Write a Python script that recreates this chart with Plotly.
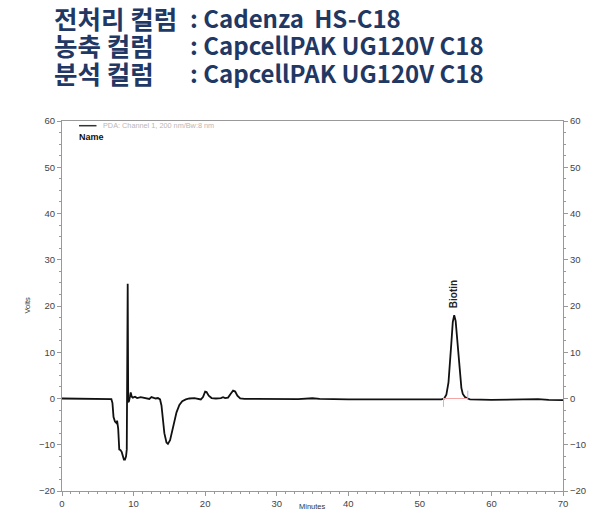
import plotly.graph_objects as go

# ---- data ----
time_min = [0, 2, 4, 6, 6.9, 7.05, 7.2, 7.4, 7.6, 7.7, 7.85, 8.0, 8.2, 8.35, 8.5, 8.65, 8.8,
            8.95, 9.05, 9.18, 9.25, 9.35, 9.5, 9.6, 9.75, 9.9, 10.2, 10.5, 11.0, 11.3, 11.7,
            12.2, 12.5, 12.8, 13.1, 13.4, 13.7, 13.9, 14.1, 14.3, 14.6, 14.8, 15.1, 15.4,
            15.7, 16.0, 16.4, 16.8, 17.3, 17.8, 18.5, 19.0, 19.4, 19.7, 20.0, 20.2, 20.5,
            20.9, 21.5, 22.2, 22.5, 22.8, 23.2, 23.6, 23.9, 24.2, 24.5, 24.9, 25.5, 27, 30,
            33, 35, 36, 40, 45, 50, 53.0, 53.4, 53.7, 54.0, 54.2, 54.4, 54.6, 54.8, 55.0,
            55.2, 55.4, 55.6, 55.8, 56.0, 56.3, 56.7, 57, 60, 63, 65, 66.5, 68, 70]
volts = [0.0, 0.0, -0.05, -0.1, -0.15, -1.0, -4.0, -5.0, -5.3, -4.8, -6.5, -11.0, -11.2,
         -11.6, -12.6, -13.2, -13.2, -12.5, -11.0, 24.8, -0.8, -0.6, 0.4, 1.3, 0.4, 0.2, 0.4,
         0.1, 0.3, 0.2, 0.0, -0.1, 0.3, 0.2, 0.0, 0.1, -0.2, -1.5, -4.5, -7.5, -9.5, -9.8,
         -9.0, -7.0, -4.8, -3.0, -1.4, -0.6, -0.2, 0.0, 0.1, -0.1, -0.2, 0.3, 1.5, 1.4, 0.6,
         0.1, 0.0, 0.1, 0.3, 0.1, 0.2, 1.1, 1.7, 1.5, 0.6, 0.0, -0.1, -0.1, -0.1, -0.15,
         0.05, -0.1, -0.2, -0.25, -0.2, -0.2, 0.0, 0.8, 3.5, 7.0, 12.0, 16.5, 18.0, 16.8,
         13.0, 8.5, 4.8, 2.3, 1.0, 0.3, 0.0, -0.2, -0.3, -0.25, -0.1, -0.15, -0.3, -0.35]

peak_names = ["Biotin"]
peak_times = [54.8]
peak_label_y = [22.6]
integ_start = [53.3]
integ_end = [56.7]
integ_level = [0.0]

x_ticks = [0, 10, 20, 30, 40, 50, 60, 70]
y_ticks = [-20, -10, 0, 10, 20, 30, 40, 50, 60]

title_labels = ["전처리 컬럼", "농축 컬럼", "분석 컬럼"]
title_values = [": Cadenza \u2009HS-C18", ": CapcellPAK UG120V C18", ": CapcellPAK UG120V C18"]

# ---- figure geometry (body margin removed by post_script) ----
W, H = 600, 532
ML, MT = 62, 121
MR = W - 563
MB = H - 491
PW, PH = W - ML - MR, H - MT - MB


def px_x(p):
    return (p - ML) / PW


def px_y(p):
    return (H - MB - p) / PH


fig = go.Figure()

fig.add_trace(go.Scatter(x=time_min, y=volts, mode="lines",
                         line=dict(color="#111111", width=1.8), showlegend=False,
                         hoverinfo="skip"))

# integration baseline + markers
for s, e, lv in zip(integ_start, integ_end, integ_level):
    fig.add_trace(go.Scatter(x=[s, e], y=[lv, lv], mode="lines",
                             line=dict(color="#f4a6a6", width=1), showlegend=False))
    fig.add_trace(go.Scatter(x=[s, s], y=[lv + 0.2, lv - 1.8], mode="lines",
                             line=dict(color="#f4a6a6", width=1), showlegend=False))
    fig.add_trace(go.Scatter(x=[e, e], y=[lv, lv + 1.7], mode="lines",
                             line=dict(color="#9fb2ee", width=1), showlegend=False))

# invisible trace for right axis
fig.add_trace(go.Scatter(x=[0], y=[0], yaxis="y2", mode="markers",
                         marker=dict(opacity=0), showlegend=False, hoverinfo="skip"))

tickfont = dict(family="Liberation Sans, Arial", size=9.5, color="#444444")
axcol = "#999999"

fig.update_layout(
    width=W, height=H,
    margin=dict(l=ML, r=MR, t=MT, b=MB),
    paper_bgcolor="white", plot_bgcolor="white",
    xaxis=dict(range=[0, 70], tickvals=x_ticks, ticks="outside", ticklen=4,
               tickcolor=axcol, showline=True, linecolor=axcol, linewidth=1,
               mirror=True, showgrid=False, zeroline=False, tickfont=tickfont,
               minor=dict(ticks="outside", ticklen=2, dtick=1.25, tickcolor=axcol)),
    yaxis=dict(range=[-20, 60], tickvals=y_ticks, ticks="outside", ticklen=4,
               tickcolor=axcol, showline=True, linecolor=axcol, linewidth=1,
               showgrid=False, zeroline=False, tickfont=tickfont,
               minor=dict(ticks="outside", ticklen=2, dtick=2.5, tickcolor=axcol)),
    yaxis2=dict(range=[-20, 60], tickvals=y_ticks, ticks="outside", ticklen=4,
                tickcolor=axcol, showline=True, linecolor=axcol, linewidth=1,
                overlaying="y", side="right", showgrid=False, zeroline=False,
                tickfont=tickfont,
                minor=dict(ticks="outside", ticklen=2, dtick=2.5, tickcolor=axcol)),
)

annotations = []
# peak labels
for n, t, ly in zip(peak_names, peak_times, peak_label_y):
    annotations.append(dict(x=t, y=ly, xref="x", yref="y", text=n, showarrow=False,
                            textangle=-90, font=dict(family="Liberation Sans, Arial",
                                                     size=10, color="#222222", weight="bold")))

# axis titles
annotations.append(dict(x=px_x(20), y=px_y(305), xref="paper", yref="paper", text="Volts",
                        showarrow=False, textangle=-90,
                        font=dict(family="Liberation Sans, Arial", size=7.5, color="#333333")))
annotations.append(dict(x=px_x(312), y=px_y(513), xref="paper", yref="paper", text="Minutes",
                        showarrow=False,
                        font=dict(family="Liberation Sans, Arial", size=7.5, color="#333333")))

# legend-like labels
annotations.append(dict(x=px_x(101), y=px_y(126), xref="paper", yref="paper",
                        xanchor="left", yanchor="middle",
                        text="PDA: Channel 1, 200 nm/Bw:8 nm", showarrow=False,
                        font=dict(family="Liberation Sans, Arial", size=7.3, color="#b8b8b8")))
annotations.append(dict(x=px_x(77), y=px_y(137), xref="paper", yref="paper",
                        xanchor="left", yanchor="middle", text="Name", showarrow=False,
                        font=dict(family="Liberation Sans, Arial", size=9, color="#111111",
                                  weight="bold")))

# header text: two columns, each one multi-line annotation
navy = "#1f3864"
annotations.append(dict(x=px_x(52), y=px_y(44.5), xref="paper", yref="paper",
                        xanchor="left", yanchor="middle", align="left",
                        text="<br>".join('<span style="font-size:25.5px">%s</span>' % v
                                         for v in title_labels),
                        showarrow=False,
                        font=dict(family="Noto Sans CJK KR", size=21, color=navy,
                                  weight="bold")))
annotations.append(dict(x=px_x(188), y=px_y(44.5), xref="paper", yref="paper",
                        xanchor="left", yanchor="middle", align="left",
                        text="<br>".join('<span style="font-size:24px">%s</span>' % v
                                         for v in title_values),
                        showarrow=False,
                        font=dict(family="Noto Sans CJK KR", size=21, color=navy,
                                  weight="bold")))

fig.update_layout(annotations=annotations)

fig.add_shape(type="line", xref="paper", yref="paper", x0=px_x(79), x1=px_x(96.5),
              y0=px_y(125.7), y1=px_y(125.7), line=dict(color="#333333", width=1.5))

fig.write_html("out.html", config={"displayModeBar": False},
               post_script="document.body.style.margin='0';document.body.style.overflow='hidden';")
